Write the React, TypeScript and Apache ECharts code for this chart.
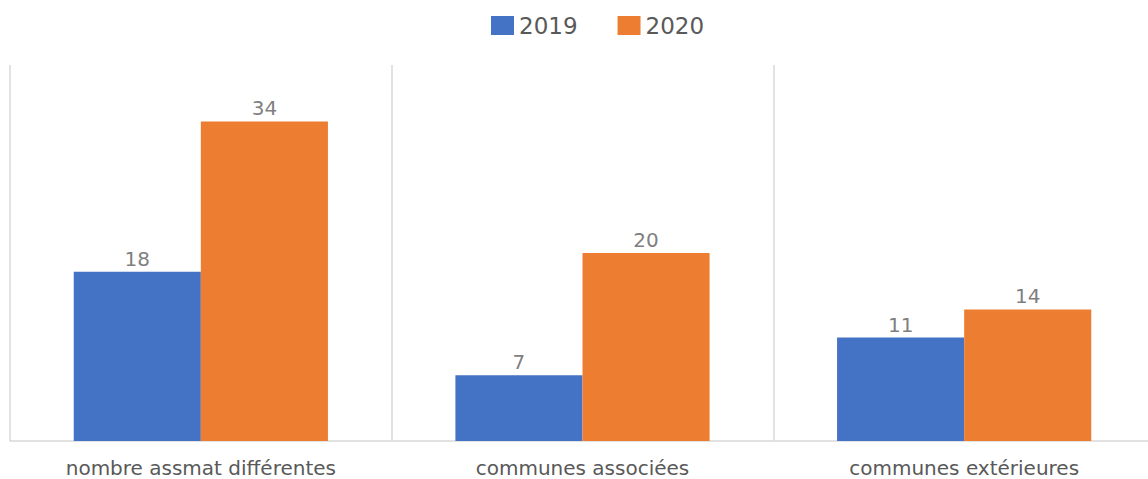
import React, { useEffect, useRef } from "react";
import * as echarts from "echarts";

const categories = ["nombre assmat différentes", "communes associées", "communes extérieures"];
const values2019 = [18, 7, 11];
const values2020 = [34, 20, 14];
const seriesNames = ["2019", "2020"];

export default function App() {
  const ref = useRef<HTMLDivElement>(null);
  useEffect(() => {
    if (!ref.current) return;
    const chart = echarts.init(ref.current, undefined, { renderer: "svg" });
    const font = "'DejaVu Sans', sans-serif";
    const labelStyle = {
      show: true,
      position: "top" as const,
      color: "#7f7f7f",
      fontSize: 20,
      fontFamily: font,
      distance: 3,
    };
    chart.setOption({
      animation: false,
      backgroundColor: "#ffffff",
      legend: {
        top: 9,
        left: 486,
        icon: "rect",
        itemWidth: 23,
        itemHeight: 19,
        itemGap: 40,
        textStyle: { color: "#595959", fontSize: 23, fontFamily: font },
        data: seriesNames,
      },
      grid: { left: 10, right: -7, top: 65, bottom: 38, outerBoundsMode: "none" },
      xAxis: {
        type: "category",
        data: categories,
        axisLine: { show: true, lineStyle: { color: "#d9d9d9", width: 1.5 } },
        axisTick: { show: false },
        splitLine: { show: true, lineStyle: { color: "#d9d9d9", width: 1.5 } },
        axisLabel: { color: "#595959", fontSize: 20, fontFamily: font, margin: 17 },
      },
      yAxis: {
        type: "value",
        min: 0,
        max: 40,
        show: false,
        splitLine: { show: false },
      },
      series: [
        {
          name: seriesNames[0],
          type: "bar",
          data: values2019,
          itemStyle: { color: "#4472c4" },
          barGap: "0%",
          barCategoryGap: "33.4%",
          label: labelStyle,
        },
        {
          name: seriesNames[1],
          type: "bar",
          data: values2020,
          itemStyle: { color: "#ed7d31" },
          barGap: "0%",
          barCategoryGap: "33.4%",
          label: labelStyle,
        },
      ],
    });
    return () => chart.dispose();
  }, []);
  return (
    <div
      ref={ref}
      style={{ position: "fixed", left: 0, top: 0, width: 1148, height: 479, background: "#fff" }}
    />
  );
}
